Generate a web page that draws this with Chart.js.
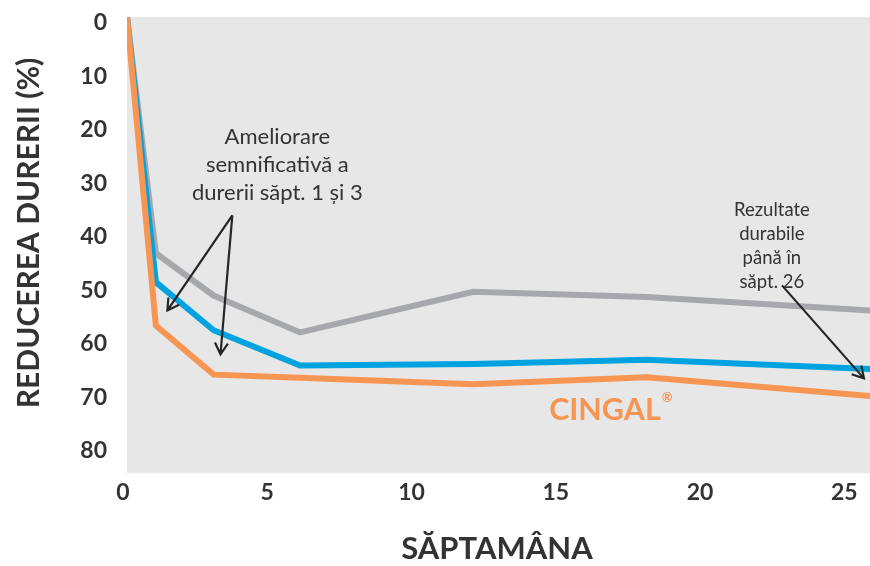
<!DOCTYPE html>
<html>
<head>
<meta charset="utf-8">
<script src="https://cdn.jsdelivr.net/npm/chart.js@4"></script>
<style>
  html, body { margin: 0; padding: 0; background: #fff; }
  #wrap { width: 870px; height: 566px; }
</style>
</head>
<body>
<div id="wrap"><canvas id="painChart" width="870" height="566"></canvas></div>
<script>
// Săptămâni de măsurare
const weeks = [0, 1, 3, 6, 12, 18, 26];
// Reducerea durerii (%) pe serii
const cingal = [0, 57.7, 66.9, 67.5, 68.7, 67.4, 71.0];
const blueSeries = [0, 49.6, 58.6, 65.2, 64.9, 64.1, 65.9];
const graySeries = [0, 44.2, 52.1, 59.0, 51.4, 52.4, 55.0];

const xTicks = [0, 5, 10, 15, 20, 25];
const yTicks = [0, 10, 20, 30, 40, 50, 60, 70, 80];

// Texte explicative
const noteLeft = ['Ameliorare', 'semnificativă a', 'durerii săpt. 1 și 3'];
const noteRight = ['Rezultate', 'durabile', 'până în', 'săpt. 26'];
// Săgeți: [x1, y1, x2, y2] în unități de date
const arrows = [
    [3.65, 37.1, 1.40, 54.9],
    [3.65, 37.1, 3.24, 63.1],
    [22.7, 50.2, 25.54, 67.6]
];

const FONT = 'Lato, "Open Sans", sans-serif';
const TEXT = '#333333';

function pts(values) {
    return weeks.map((w, i) => ({ x: w, y: values[i] }));
}

function drawArrow(ctx, x1, y1, x2, y2) {
    const a = Math.atan2(y2 - y1, x2 - x1);
    const h = 13, s = Math.PI / 6;
    ctx.beginPath();
    ctx.moveTo(x1, y1);
    ctx.lineTo(x2, y2);
    ctx.moveTo(x2 - h * Math.cos(a - s), y2 - h * Math.sin(a - s));
    ctx.lineTo(x2, y2);
    ctx.lineTo(x2 - h * Math.cos(a + s), y2 - h * Math.sin(a + s));
    ctx.stroke();
}

const decor = {
    id: 'decor',
    beforeDraw(chart) {
        const { ctx, chartArea: a } = chart;
        ctx.save();
        ctx.fillStyle = '#e7e7e7';
        ctx.fillRect(a.left, a.top, a.right - a.left, a.bottom - a.top);
        ctx.restore();
    },
    afterDraw(chart) {
        const { ctx, scales } = chart;
        const px = v => scales.x.getPixelForValue(v);
        const py = v => scales.y.getPixelForValue(v);
        ctx.save();
        ctx.fillStyle = TEXT;
        ctx.textAlign = 'center';
        ctx.textBaseline = 'middle';

        // titluri axe
        ctx.font = 'bold 31px ' + FONT;
        ctx.fillText('SĂPTAMÂNA', 497, 549);
        ctx.save();
        ctx.translate(29, 233);
        ctx.rotate(-Math.PI / 2);
        ctx.font = 'bold 30px ' + FONT;
        ctx.fillText('REDUCEREA DURERII (%)', 0, 0);
        ctx.restore();

        // note
        ctx.font = '22px ' + FONT;
        noteLeft.forEach((t, i) => ctx.fillText(t, px(5.21), py(22.5) + i * 28));
        ctx.font = '18.5px ' + FONT;
        noteRight.forEach((t, i) => ctx.fillText(t, px(22.35), py(36.1) + i * 24));

        ctx.strokeStyle = '#262626';
        ctx.lineWidth = 2.2;
        arrows.forEach(r => drawArrow(ctx, px(r[0]), py(r[1]), px(r[2]), py(r[3])));

        // eticheta CINGAL
        ctx.fillStyle = '#f79552';
        ctx.textAlign = 'left';
        ctx.font = 'bold 30.5px ' + FONT;
        const cx = px(14.63), cy = py(73.6);
        ctx.fillText('CINGAL', cx, cy);
        const w = ctx.measureText('CINGAL').width;
        ctx.font = 'bold 13px ' + FONT;
        ctx.fillText('®', cx + w + 1, cy - 13);
        ctx.restore();
    }
};

function keepTicks(list) {
    return function(axis) {
        axis.ticks = list.map(v => ({ value: v }));
    };
}

new Chart(document.getElementById('painChart'), {
    type: 'line',
    data: {
        datasets: [
            { data: pts(cingal), borderColor: '#f79552' },
            { data: pts(blueSeries), borderColor: '#00a3e0' },
            { data: pts(graySeries), borderColor: '#a7a8ab' }
        ]
    },
    options: {
        responsive: false,
        animation: false,
        layout: { padding: { top: 17, right: 0, left: 0, bottom: 0 } },
        elements: {
            line: { borderWidth: 6, tension: 0, borderCapStyle: 'butt' },
            point: { radius: 0 }
        },
        datasets: { line: { clip: 0 } },
        plugins: { legend: { display: false }, tooltip: { enabled: false } },
        scales: {
            x: {
                type: 'linear',
                min: 0,
                max: 25.75,
                afterFit(axis) { axis.height = 93; axis.paddingLeft = 0; axis.paddingRight = 0; },
                afterBuildTicks: keepTicks(xTicks),
                grid: { display: false, drawTicks: false },
                border: { display: false },
                ticks: {
                    color: TEXT,
                    font: { family: FONT, size: 23, weight: 'bold' },
                    padding: 6,
                    labelOffset: -4,
                    maxRotation: 0,
                    autoSkip: false
                }
            },
            y: {
                type: 'linear',
                reverse: true,
                min: 0,
                max: 85.3,
                afterFit(axis) { axis.width = 127; axis.paddingTop = 0; axis.paddingBottom = 0; },
                afterBuildTicks: keepTicks(yTicks),
                grid: { display: false, drawTicks: false },
                border: { display: false },
                ticks: {
                    color: TEXT,
                    font: { family: FONT, size: 23, weight: 'bold' },
                    padding: 20,
                    labelOffset: 6,
                    autoSkip: false
                }
            }
        }
    },
    plugins: [decor]
});
</script>
</body>
</html>
